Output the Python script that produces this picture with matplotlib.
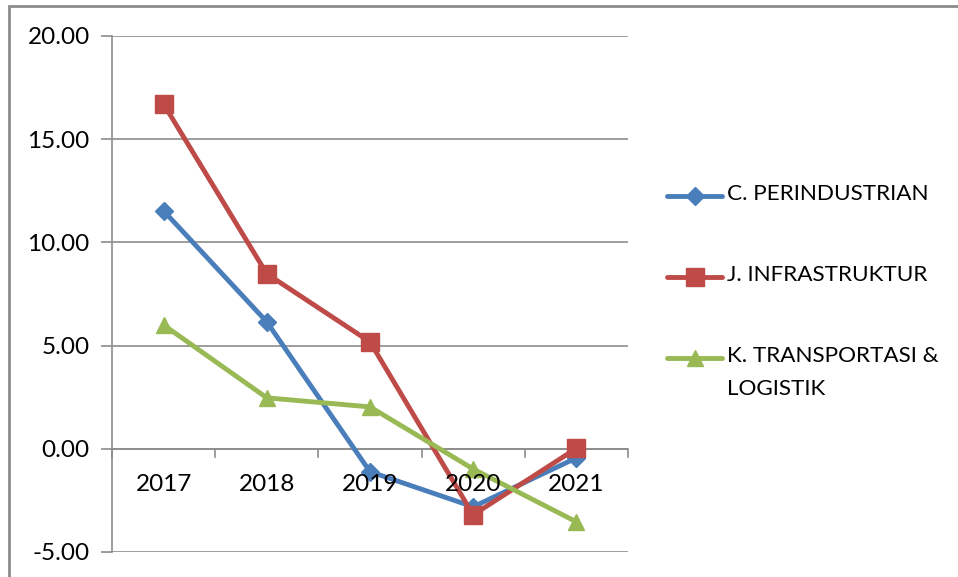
import numpy as np
import matplotlib.pyplot as plt
from matplotlib.lines import Line2D
from matplotlib.patches import Rectangle

# data
years = ["2017", "2018", "2019", "2020", "2021"]
perindustrian = [11.53, 6.15, -1.11, -2.81, -0.44]
infrastruktur = [16.70, 8.48, 5.18, -3.20, 0.02]
transportasi = [6.00, 2.47, 2.03, -0.98, -3.54]

names = ["C. PERINDUSTRIAN", "J. INFRASTRUKTUR", "K. TRANSPORTASI &\nLOGISTIK"]
colors = ["#4A7EBB", "#BE4B48", "#98B954"]
markers = ["D", "s", "^"]
msizes = [9.5, 12.5, 12]

plt.rcParams["font.family"] = ["Lato", "DejaVu Sans"]

W, H = 958, 577
fig = plt.figure(figsize=(W / 100, H / 100), dpi=100)
ax = fig.add_axes([112 / W, 1 - 552 / H, (628 - 112) / W, (552 - 36) / H])

x = np.arange(len(years))
series = [perindustrian, infrastruktur, transportasi]
for vals, c, m, ms in zip(series, colors, markers, msizes):
    ax.plot(x, vals, color=c, lw=3.5, marker=m, ms=ms, mec=c, mfc=c, zorder=3)

ax.set_xlim(-0.5, len(years) - 0.5)
ax.set_ylim(-5, 20)
ax.set_yticks(np.arange(-5, 21, 5))
ax.set_yticklabels([f"{v:.2f}" for v in np.arange(-5, 21, 5)], fontsize=17.5)
ax.yaxis.grid(True, color="#8c8c8c", lw=1.2)
ax.tick_params(axis="y", length=8, width=1.2, color="#8c8c8c", pad=8)
for s in ["top", "right", "bottom"]:
    ax.spines[s].set_visible(False)
ax.spines["left"].set_color("#8c8c8c")
ax.spines["left"].set_linewidth(1.2)

# category axis crosses at zero
ax.axhline(0, color="#8c8c8c", lw=1.2, zorder=1)
ax.set_xticks([])
for b in np.arange(-0.5, len(years), 1.0):
    ax.plot([b, b], [0, -0.39], color="#8c8c8c", lw=1.2, zorder=1, clip_on=False)
for xi, lab in zip(x, years):
    ax.text(xi, -1.75, lab, ha="center", va="center", fontsize=17.5)

# legend drawn by hand so the handle lines up with the first text line
for i, (name, c, m, ms) in enumerate(zip(names, colors, markers, msizes)):
    yc = 1 - (196 + 81 * i) / H
    fig.add_artist(Line2D([667 / W, 722 / W], [yc, yc], color=c, lw=3.5,
                          solid_capstyle="round"))
    fig.add_artist(Line2D([694.5 / W], [yc], color=c, marker=m, ms=ms,
                          mec=c, mfc=c))
    fig.text(727 / W, yc + 12 / H, name, ha="left", va="top", fontsize=16.2,
             linespacing=1.8)

# outer chart border
fig.add_artist(Rectangle((9 / W, -0.1), 1.1, 1 - 6 / H + 0.1, fill=False,
                         ec="#8c8c8c", lw=2, transform=fig.transFigure))

plt.savefig("out.png", dpi=100)
